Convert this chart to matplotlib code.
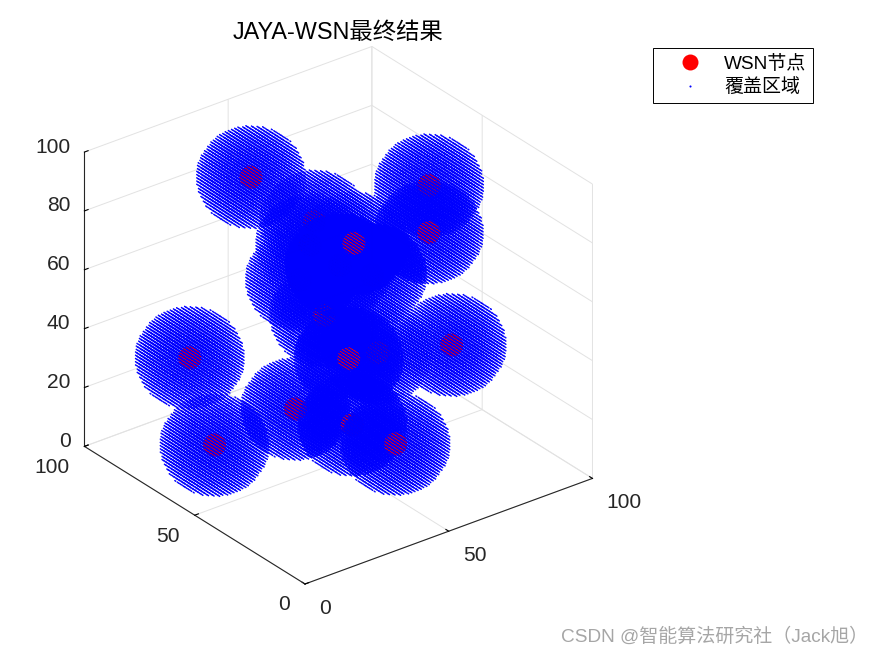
import numpy as np
import matplotlib
matplotlib.use('Agg')
import matplotlib.pyplot as plt
from matplotlib.lines import Line2D
from mpl_toolkits.mplot3d import proj3d

plt.rcParams['font.family'] = ['Liberation Sans', 'Noto Sans CJK SC', 'DejaVu Sans']

# WSN node positions (depth estimated from what hides what)
node_x = [38, 89.6, 73, 49.7, 57, 54, 52, 37, 61, 66.2, 85, 18, 49, 13.5, 53.5, 50.7, 57.6, 53]
node_y = [74, 60.5, 39, 42.6, 70, 72.6, 59, 28.4, 46.4, 56, 44.3, 75.7, 68.2, 58.6, 28.7, 44.7, 59.2, 66.7]
node_z = [90, 75, 75, 78, 70, 50, 45, 50, 35, 55, 30, 35, 10, 15, 15, 15, 60, 65]
radius = 15.2

ticks_xy = [0, 50, 100]
ticks_z = [0, 20, 40, 60, 80, 100]

title = 'JAYA-WSN最终结果'
legend_labels = ['WSN节点', '覆盖区域']
watermark = 'CSDN @智能算法研究社（Jack旭）'

W, H = 875, 656

# Coverage of one node: grid points inside the sphere
step = 1.1
g = np.arange(-16.5, 16.5 + step, step)
gx, gy, gz = np.meshgrid(g, g, g, indexing='ij')
d = np.sqrt(gx**2 + gy**2 + gz**2)
inside = d <= radius
sx, sy, sz = gx[inside], gy[inside], gz[inside]

# Everything goes in one scatter so depth sorting mixes nodes and coverage
px, py, pz, sizes, colors = [], [], [], [], []
for x0, y0, z0 in zip(node_x, node_y, node_z):
    px += [x0] + list(sx + x0)
    py += [y0] + list(sy + y0)
    pz += [z0] + list(sz + z0)
    sizes += [275] + [1.15] * len(sx)
    colors += ['#ff0000'] + ['#0000ff'] * len(sx)

fig = plt.figure(figsize=(W / 100, H / 100), dpi=100)
ax = fig.add_subplot(111, projection='3d', proj_type='ortho')
ax.view_init(elev=28.6, azim=-127.5)
ax.set_box_aspect((361, 361, 334))
ax.scatter(px, py, pz, s=sizes, c=colors, marker='o', linewidths=0, depthshade=False)

ax.set_xlim(0, 100)
ax.set_ylim(0, 100)
ax.set_zlim(0, 100)
ax.set_xticks(ticks_xy)
ax.set_yticks(ticks_xy)
ax.set_zticks(ticks_z)
ax.set_xticklabels([])
ax.set_yticklabels([])
ax.set_zticklabels([])

for axis in [ax.xaxis, ax.yaxis, ax.zaxis]:
    axis.set_pane_color((1, 1, 1, 0))
    axis.pane.set_edgecolor('#d6d6d6')
    axis.line.set_color('#262626')
    axis.line.set_linewidth(0.8)
    axis._axinfo['grid'].update(color='#e2e2e2', linewidth=0.7)
    axis._axinfo['tick'].update(inward_factor=0.0, outward_factor=0.16, linewidth={True: 0.8, False: 0.8})
    axis._axinfo['tick']['color'] = '#262626'


def to_pixels(x, y, z):
    a, b, _ = proj3d.proj_transform(x, y, z, ax.get_proj())
    p = ax.transData.transform((a, b))
    return p[0], H - p[1]


# Fit the projected box to the corners seen in the picture
ax.set_position([0.1, 0.1, 0.8 * H / W, 0.8])
for i in range(3):
    fig.canvas.draw()
    x0, y0 = to_pixels(0, 0, 0)
    x1, y1 = to_pixels(100, 0, 0)
    scale = np.hypot(592.5 - 305, 478.5 - 584) / np.hypot(x1 - x0, y1 - y0)
    pos = ax.get_position(original=True)
    side = pos.height * H * scale
    cx = pos.x0 * W + pos.width * W / 2
    cy = H - (pos.y0 * H + pos.height * H / 2)
    cx_new = 305 + (cx - x0) * scale
    cy_new = 584 + (cy - y0) * scale
    ax.set_position([(cx_new - side / 2) / W, 1 - (cy_new + side / 2) / H, side / W, side / H])
fig.canvas.draw()


def tick_label(tick, where, dx, dy, ha):
    tx, ty = to_pixels(*where)
    fig.text((tx + dx) / W, 1 - (ty + dy) / H, str(tick), fontsize=15.1, color='#262626', ha=ha, va='center')


# Tick labels sit beside the ticks the way MATLAB places them
for t in ticks_xy:
    tick_label(t, (t, 0, 0), 14, 24, 'left')
    tick_label(t, (0, t, 0), -15, 21, 'right')
for t in ticks_z:
    tick_label(t, (0, 100, t), -14, -5, 'right')

fig.text(338.5 / W, 1 - 32 / H, title, fontsize=16.8, color='black', ha='center', va='center')

handles = [
    Line2D([], [], linestyle='none', marker='o', markersize=11.5, color='#ff0000', markeredgewidth=0),
    Line2D([], [], linestyle='none', marker='o', markersize=1.5, color='#0000ff', markeredgewidth=0),
]
leg = fig.legend(handles, legend_labels, loc='upper left', bbox_to_anchor=(653 / W, 1 - 48 / H),
                 borderaxespad=0, fancybox=False, edgecolor='black', framealpha=1, fontsize=13.7,
                 labelspacing=0.3, borderpad=0.35, handletextpad=0.23, handlelength=3.15)
leg.get_frame().set_linewidth(0.7)

fig.text(868 / W, 1 - 637 / H, watermark, fontsize=13.7, color='#a6a6a6', ha='right', va='center')

fig.savefig('out.png', dpi=100)
